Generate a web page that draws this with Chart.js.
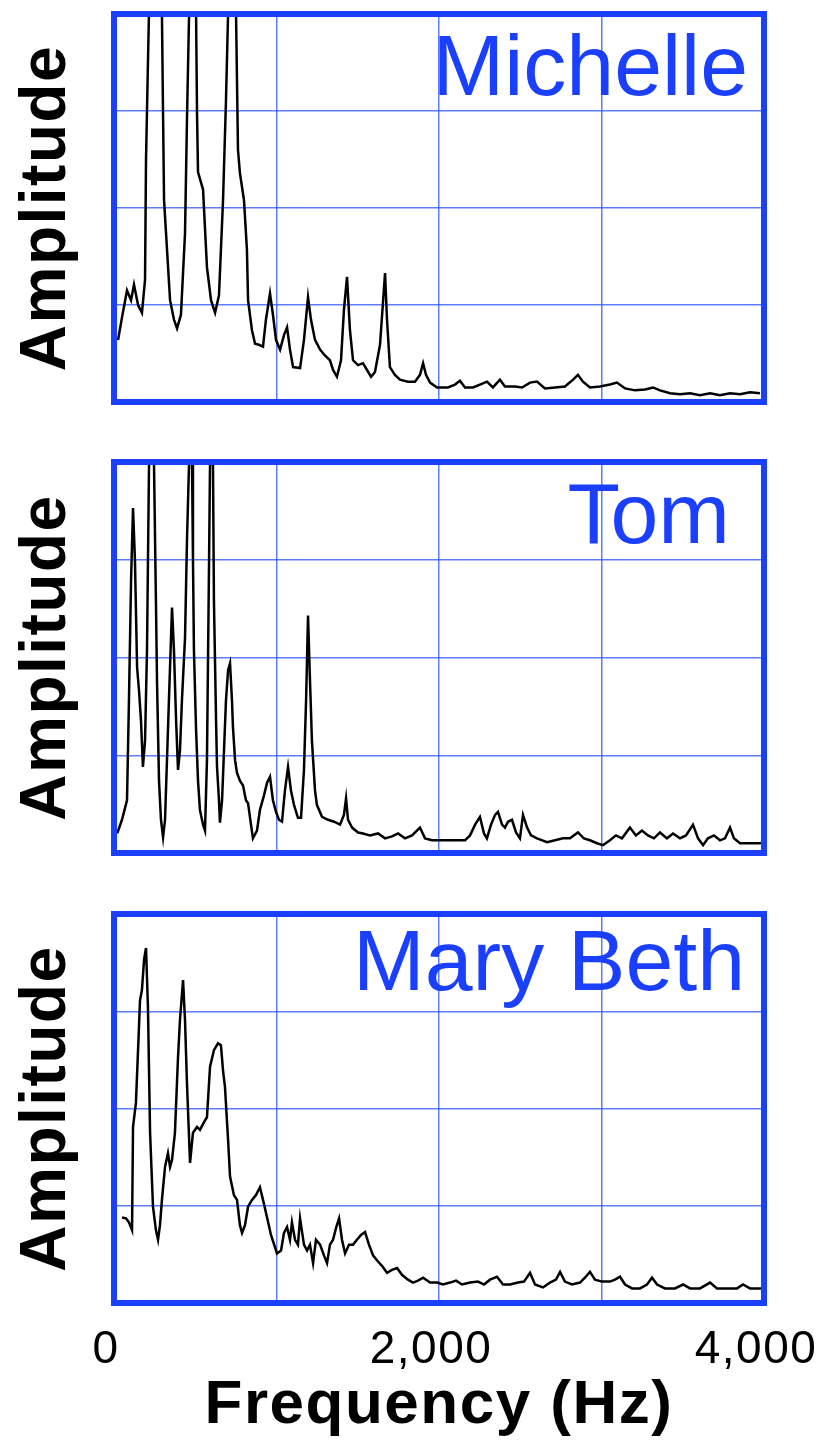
<!DOCTYPE html>
<html>
<head>
<meta charset="utf-8">
<script src="https://cdn.jsdelivr.net/npm/chart.js@4.4.1/dist/chart.umd.min.js"></script>
<style>
  html, body { margin: 0; padding: 0; background: #fff; }
  body { width: 826px; height: 1444px; position: relative; overflow: hidden; }
  canvas { position: absolute; left: 0; }
</style>
</head>
<body>
<canvas id="chartMichelle" width="826" height="430" style="top:0px"></canvas>
<canvas id="chartTom" width="826" height="430" style="top:440px"></canvas>
<canvas id="chartMary" width="826" height="554" style="top:890px"></canvas>
<script>
// speaker names and axis text
const speakerNames = ['Michelle', 'Tom', 'Mary Beth'];
const xTickValues = [0, 2000, 4000];
const xTickLabels = ['0', '2,000', '4,000'];

// Michelle spectrum (Hz, amplitude in grid units)
const michelleHz = [25, 49, 80, 105, 123, 148, 172, 191, 197, 215, 255, 295, 302, 308, 345, 369, 388, 412,
  437, 449, 462, 490, 505, 511, 517, 548, 572, 597, 622, 646,
  671, 689, 702, 735, 751, 763, 775, 800, 818, 825, 849, 868, 892, 917, 935, 960, 978, 997,
  1022, 1046, 1065, 1083, 1102, 1145, 1169, 1194, 1212, 1237, 1268, 1298, 1329, 1348, 1372, 1397, 1415, 1434, 1452,
  1471, 1502, 1532, 1557, 1582, 1606, 1637, 1668, 1680, 1698, 1729, 1760, 1809, 1852, 1883, 1902, 1920, 1945, 1988,
  2055, 2098, 2129, 2160, 2209, 2252, 2295, 2332, 2375, 2406, 2468, 2511, 2560, 2603, 2652, 2714, 2775, 2825, 2855,
  2886, 2929, 2991, 3052, 3095, 3145, 3206, 3268, 3317, 3360, 3422, 3483, 3545, 3606, 3668, 3729, 3791, 3852, 3914, 3975];
const michelleAmp = [0.64, 0.87, 1.15, 1.05, 1.21, 1.0, 0.92, 1.26, 2.5, 4.0, 5.5, 4.0, 2.94, 2.08, 1.05, 0.85, 0.76, 0.9,
  1.74, 2.9, 4.0, 5.5, 4.0, 2.96, 2.37, 2.19, 1.39, 1.05, 0.92, 1.1,
  2.08, 3.1, 4.0, 5.5, 4.0, 2.6, 2.36, 2.08, 1.57, 1.05, 0.74, 0.6, 0.59, 0.57, 0.85, 1.12, 0.9, 0.64,
  0.54, 0.69, 0.77, 0.54, 0.36, 0.35, 0.64, 1.08, 0.85, 0.64, 0.54, 0.48, 0.43, 0.33, 0.26, 0.43, 0.95, 1.29, 0.74,
  0.43, 0.38, 0.4, 0.33, 0.26, 0.31, 0.59, 1.33, 0.85, 0.36, 0.28, 0.23, 0.21, 0.21, 0.28, 0.4, 0.28, 0.2, 0.15,
  0.15, 0.18, 0.22, 0.15, 0.15, 0.18, 0.21, 0.15, 0.23, 0.16, 0.16, 0.15, 0.2, 0.21, 0.14, 0.15, 0.16, 0.23, 0.28,
  0.21, 0.15, 0.16, 0.18, 0.2, 0.14, 0.12, 0.13, 0.15, 0.12, 0.09, 0.08, 0.09, 0.07, 0.09, 0.07, 0.09, 0.08, 0.1, 0.09];

// Tom spectrum
const tomHz = [20, 49, 80, 92, 105, 117, 129, 142, 154, 166, 178, 191, 203, 215, 228, 246, 258, 265, 277, 289, 302,
  314, 326, 338, 357, 369, 382, 394, 406, 418, 437, 449, 462, 475, 480, 486, 492, 505, 517, 529, 548, 560,
  572, 585, 591, 603, 609, 615, 628, 634, 646, 652, 665, 677, 689, 702, 714, 726, 732, 745, 757, 775, 794,
  812, 825, 843, 855, 880, 898, 923, 942, 960, 978, 997, 1015, 1034, 1052, 1071, 1089, 1108, 1132, 1151,
  1169, 1182, 1194, 1206, 1218, 1237, 1249, 1280, 1317, 1354, 1391, 1415, 1428, 1440, 1465, 1502, 1532,
  1575, 1625, 1668, 1711, 1748, 1791, 1834, 1883, 1914, 1957, 2006, 2068, 2160, 2191, 2222, 2252, 2277,
  2295, 2320, 2345, 2363, 2388, 2406, 2425, 2449, 2474, 2498, 2517, 2542, 2566, 2603, 2665, 2714, 2763,
  2806, 2855, 2892, 2929, 2972, 3009, 3052, 3089, 3126, 3175, 3212, 3249, 3286, 3323, 3360, 3403, 3440,
  3483, 3520, 3563, 3594, 3625, 3655, 3692, 3729, 3760, 3791, 3815, 3852, 3902, 3951, 3988];
const tomAmp = [0.2, 0.34, 0.54, 1.56, 2.79, 3.53, 2.99, 1.9, 1.66, 1.36, 0.88, 1.15, 2.07, 3.9, 4.8, 4.0, 2.58, 1.73, 0.74, 0.34, 0.16,
  0.34, 0.95, 1.56, 2.51, 2.07, 1.36, 0.85, 1.05, 1.56, 2.2, 3.19, 4.0, 4.9, 4.0, 3.0, 2.07, 1.26, 0.74, 0.44, 0.29, 0.23,
  0.95, 2.99, 4.0, 4.9, 4.0, 2.58, 1.36, 0.88, 0.54, 0.31, 0.54, 1.05, 1.56, 1.87, 1.94, 1.56, 1.29, 0.95, 0.82, 0.74, 0.69,
  0.54, 0.51, 0.29, 0.15, 0.23, 0.44, 0.59, 0.72, 0.78, 0.54, 0.42, 0.34, 0.32, 0.64, 0.88, 0.64, 0.49, 0.36, 0.36,
  0.85, 1.56, 2.43, 1.77, 1.15, 0.64, 0.49, 0.37, 0.34, 0.32, 0.29, 0.39, 0.56, 0.34, 0.26, 0.21, 0.2,
  0.18, 0.2, 0.15, 0.17, 0.2, 0.15, 0.18, 0.26, 0.15, 0.13, 0.13, 0.13, 0.13, 0.18, 0.29, 0.37, 0.2,
  0.15, 0.29, 0.39, 0.42, 0.29, 0.26, 0.32, 0.34, 0.21, 0.15, 0.39, 0.26, 0.18, 0.15, 0.11, 0.13, 0.15,
  0.15, 0.21, 0.15, 0.13, 0.1, 0.08, 0.13, 0.18, 0.15, 0.26, 0.18, 0.23, 0.18, 0.15, 0.21, 0.15, 0.2,
  0.15, 0.18, 0.29, 0.15, 0.08, 0.15, 0.18, 0.13, 0.15, 0.26, 0.15, 0.1, 0.1, 0.1, 0.1];

// Mary Beth spectrum
const maryHz = [49, 74, 92, 111, 117, 135, 148, 160, 172, 185, 197, 209, 222, 240, 258, 271, 283, 295, 314, 332, 345,
  357, 375, 394, 406, 425, 437, 449, 468, 486, 511, 529, 554, 572, 591, 615, 640, 658, 671, 683, 702, 714,
  738, 757, 775, 788, 806, 825, 849, 874, 898, 917, 942, 966, 1003, 1028, 1046, 1065, 1083, 1095, 1114,
  1132, 1145, 1169, 1188, 1206, 1225, 1243, 1268, 1292, 1311, 1329, 1348, 1366, 1385, 1403, 1422, 1446,
  1471, 1495, 1520, 1545, 1569, 1594, 1618, 1655, 1680, 1711, 1742, 1772, 1809, 1840, 1871, 1902, 1945,
  1988, 2025, 2068, 2105, 2142, 2191, 2240, 2277, 2314, 2357, 2394, 2437, 2486, 2523, 2560, 2591, 2640,
  2683, 2720, 2745, 2775, 2818, 2868, 2898, 2929, 2960, 3003, 3052, 3083, 3114, 3145, 3188, 3237, 3280,
  3311, 3342, 3391, 3452, 3502, 3545, 3606, 3668, 3711, 3778, 3834, 3871, 3914, 3988];
const maryAmp = [0.88, 0.87, 0.83, 0.75, 1.81, 2.06, 2.6, 3.11, 3.22, 3.53, 3.65, 3.04, 1.75, 0.99, 0.75, 0.65, 0.8, 1.06, 1.4, 1.54, 1.4,
  1.47, 1.75, 2.53, 2.91, 3.32, 2.91, 2.26, 1.44, 1.75, 1.81, 1.78, 1.86, 1.91, 2.43, 2.6, 2.67, 2.65, 2.39, 2.22, 1.68, 1.3,
  1.11, 1.06, 0.8, 0.72, 0.8, 0.99, 1.06, 1.11, 1.19, 1.06, 0.88, 0.7, 0.51, 0.54, 0.72, 0.78, 0.65, 0.83, 0.65,
  0.6, 0.87, 0.6, 0.54, 0.6, 0.41, 0.65, 0.6, 0.49, 0.41, 0.6, 0.65, 0.77, 0.87, 0.65, 0.51, 0.6,
  0.6, 0.65, 0.7, 0.73, 0.6, 0.49, 0.44, 0.37, 0.31, 0.34, 0.36, 0.29, 0.24, 0.21, 0.23, 0.26, 0.21,
  0.21, 0.19, 0.21, 0.23, 0.19, 0.21, 0.22, 0.19, 0.24, 0.27, 0.19, 0.19, 0.21, 0.22, 0.31, 0.19, 0.16,
  0.21, 0.24, 0.32, 0.22, 0.19, 0.21, 0.26, 0.32, 0.24, 0.22, 0.22, 0.24, 0.27, 0.19, 0.15, 0.15, 0.19,
  0.26, 0.19, 0.15, 0.15, 0.19, 0.15, 0.15, 0.21, 0.15, 0.15, 0.15, 0.19, 0.15, 0.15];

const BLUE = '#1a3fff';
const GRID = 'rgba(40, 80, 255, 0.75)';
Chart.defaults.font.family = '"Liberation Sans", Arial, sans-serif';
Chart.defaults.color = '#000';

// slightly wider lettering, like the original artwork
const spacingPlugin = {
    id: 'spacing',
    beforeDraw(chart) { chart.ctx.letterSpacing = '1.5px'; },
    afterDraw(chart) { chart.ctx.letterSpacing = '0px'; }
};

// blue box round the plot plus the speaker name
const framePlugin = {
    id: 'frame',
    afterDatasetsDraw(chart, args, opts) {
        const {ctx, chartArea: a} = chart;
        ctx.save();
        ctx.strokeStyle = BLUE;
        ctx.lineWidth = 6;
        ctx.strokeRect(a.left, a.top, a.right - a.left, a.bottom - a.top);
        ctx.letterSpacing = '0px';
        ctx.font = '86px "Liberation Sans", Arial, sans-serif';
        ctx.fillStyle = BLUE;
        ctx.textAlign = 'right';
        ctx.textBaseline = 'alphabetic';
        ctx.fillText(opts.name, a.right - opts.inset, a.top + opts.baseline);
        ctx.restore();
    }
};

function makeChart(id, hz, amp, name, o) {
    const points = hz.map((f, i) => ({x: f, y: amp[i]}));
    return new Chart(document.getElementById(id), {
        type: 'line',
        data: {
            datasets: [{
                data: points,
                borderColor: '#000',
                borderWidth: 2.5,
                pointRadius: 0,
                tension: 0,
                fill: false
            }]
        },
        options: {
            responsive: false,
            animation: false,
            devicePixelRatio: 1,
            layout: {padding: {top: o.padTop, right: 62, left: 0, bottom: 0}},
            plugins: {
                legend: {display: false},
                tooltip: {enabled: false},
                frame: {name: name, inset: o.inset, baseline: o.baseline}
            },
            scales: {
                x: {
                    type: 'linear',
                    min: 0,
                    max: 4000,
                    border: {display: false},
                    grid: {color: GRID, lineWidth: 1.5, drawTicks: false},
                    ticks: {
                        display: o.bottom,
                        stepSize: 1000,
                        padding: 20,
                        labelOffset: -8,
                        maxRotation: 0,
                        autoSkip: false,
                        font: {size: 46},
                        callback: (v) => {
                            const i = xTickValues.indexOf(v);
                            return i >= 0 ? xTickLabels[i] : '';
                        }
                    },
                    title: {
                        display: o.bottom,
                        text: 'Frequency (Hz)',
                        font: {size: 62, weight: 'bold'},
                        padding: {top: 0, bottom: 1}
                    },
                    afterFit: (s) => {
                        s.height = o.xHeight;
                        s.paddingLeft = 0;
                        s.paddingRight = 0;
                    }
                },
                y: {
                    min: 0,
                    max: 4,
                    border: {display: false},
                    grid: {color: GRID, lineWidth: 1.5, drawTicks: false},
                    ticks: {display: false, stepSize: 1},
                    title: {
                        display: true,
                        text: 'Amplitude',
                        font: {size: 64, weight: 'bold'},
                        padding: {top: 9, bottom: 0}
                    },
                    afterFit: (s) => { s.width = 114; }
                }
            }
        },
        plugins: [spacingPlugin, framePlugin]
    });
}

makeChart('chartMichelle', michelleHz, michelleAmp, speakerNames[0],
    {padTop: 14, xHeight: 28, inset: 16, baseline: 81, bottom: false});
makeChart('chartTom', tomHz, tomAmp, speakerNames[1],
    {padTop: 22, xHeight: 17, inset: 34, baseline: 81, bottom: false});
makeChart('chartMary', maryHz, maryAmp, speakerNames[2],
    {padTop: 24, xHeight: 141, inset: 19, baseline: 76, bottom: true});
</script>
</body>
</html>
